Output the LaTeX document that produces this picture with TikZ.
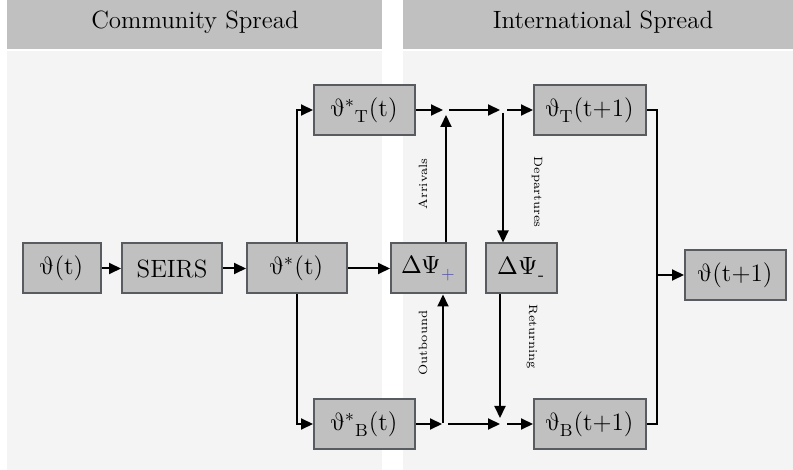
\documentclass[tikz,border=0pt]{standalone}
\usepackage{amsmath}
\usepackage{unicode-math}
\setmathfont{Latin Modern Math}
\usetikzlibrary{arrows.meta}
\definecolor{boxgray}{RGB}{192,192,192}
\definecolor{boxline}{RGB}{88,92,96}
\definecolor{panelgray}{RGB}{244,244,244}
\definecolor{plusblue}{RGB}{80,80,170}
\newcommand{\vth}{\symup{\vartheta}}

\begin{document}
\begin{tikzpicture}[x=0.5pt, y=-0.5pt, >={Triangle[length=6pt,width=5.5pt]}]
            \tikzstyle{header} = [fill=boxgray, draw=none]
            \tikzstyle{panel} = [fill=panelgray, draw=none]
            \tikzstyle{header text} = [font=\fontsize{12.5}{14}\selectfont]
            \tikzstyle{state box} = [draw=boxline, fill=boxgray, line width=1pt, minimum height=25pt, inner sep=0pt, font=\fontsize{12.5}{14}\selectfont]
            \tikzstyle{flow} = [line width=1pt, ->]
            \tikzstyle{flow line} = [line width=1pt]
            \tikzstyle{flow label} = [font=\fontsize{6}{7}\selectfont, inner sep=0pt]

            \useasboundingbox (0, 0) rectangle (793, 470);

            % two columns
            \draw[header] (7, 0) rectangle (382, 49);
            \draw[panel] (7, 51) rectangle (382, 470);
            \draw[header] (403, 0) rectangle (793, 49);
            \draw[panel] (403, 51) rectangle (793, 470);
            \node[header text] (community) at (195, 22) {Community Spread};
            \node[header text] (international) at (603, 22) {International Spread};

            % states
            \node[state box, minimum width=39pt] (theta) at (62, 268.5) {$\vth$(t)};
            \node[state box, minimum width=50pt] (seirs) at (172, 268.5) {SEIRS};
            \node[state box, minimum width=50pt] (thetastar) at (297, 268.5) {$\vth^{*}$(t)};
            \node[state box, minimum width=50.5pt] (thetastarT) at (364.5, 110) {$\vth^{*}{}_{\mathrm{T}}$(t)};
            \node[state box, minimum width=50.5pt] (thetastarB) at (364.5, 424) {$\vth^{*}{}_{\mathrm{B}}$(t)};
            \node[state box, minimum width=37.5pt] (dpsiplus) at (428.5, 268.5) {$\Delta\Psi_{\color{plusblue}+}$};
            \node[state box, minimum width=35.5pt] (dpsiminus) at (521.5, 268.5) {$\Delta\Psi_{\text{-}}$};
            \node[state box, minimum width=56pt] (thetaT) at (590, 110) {$\vth_{\mathrm{T}}$(t+1)};
            \node[state box, minimum width=56pt] (thetaB) at (590, 424) {$\vth_{\mathrm{B}}$(t+1)};
            \node[state box, minimum width=50.5pt] (thetanext) at (735.5, 275) {$\vth$(t+1)};

            % junction points
            \coordinate (topin) at (443, 110);
            \coordinate (arrtip) at (446, 115);
            \coordinate (topa) at (449, 110);
            \coordinate (topb) at (500, 110);
            \coordinate (depstart) at (503, 113);
            \coordinate (topout) at (507, 110);
            \coordinate (botin) at (442, 424);
            \coordinate (outstart) at (443, 423);
            \coordinate (bota) at (448, 424);
            \coordinate (botb) at (500, 424);
            \coordinate (rettip) at (500, 418);
            \coordinate (botout) at (507, 424);
            \coordinate (merge) at (657, 275);

            % community spread
            \draw[flow] (theta) -- (seirs);
            \draw[flow] (seirs) -- (thetastar);
            \draw[flow] (thetastar.north) |- (thetastarT.west);
            \draw[flow] (thetastar.south) |- (thetastarB.west);
            \draw[flow] (thetastar) -- (dpsiplus);

            % international spread
            \draw[flow] (thetastarT) -- (topin);
            \draw[flow] (dpsiplus.north -| arrtip) -- (arrtip);
            \draw[flow] (topa) -- (topb);
            \draw[flow] (depstart) -- (dpsiminus.north -| depstart);
            \draw[flow] (topout) -- (thetaT);

            \draw[flow] (thetastarB) -- (botin);
            \draw[flow] (outstart) -- (dpsiplus.south -| outstart);
            \draw[flow] (bota) -- (botb);
            \draw[flow] (dpsiminus.south -| rettip) -- (rettip);
            \draw[flow] (botout) -- (thetaB);

            \draw[flow line] (thetaT.east) -| (merge) |- (thetaB.east);
            \draw[flow] (merge) -- (thetanext);

            \node[flow label, rotate=90] (arrivals) at (423, 184) {Arrivals};
            \node[flow label, rotate=-90] (departures) at (537, 192) {Departures};
            \node[flow label, rotate=90] (outbound) at (423, 343) {Outbound};
            \node[flow label, rotate=-90] (returning) at (532, 337) {Returning};

        \end{tikzpicture}
\end{document}
